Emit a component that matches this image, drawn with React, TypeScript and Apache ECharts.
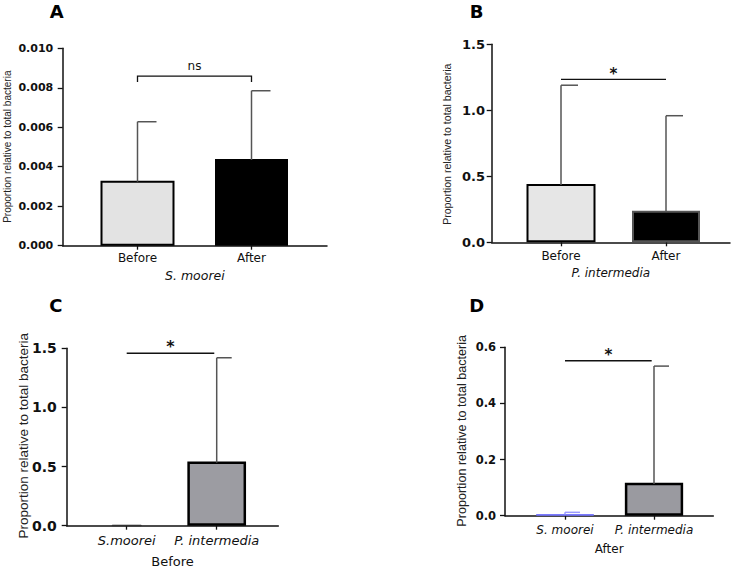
import React, { useEffect, useRef } from 'react';
import * as echarts from 'echarts';

// ---- data ----
const abCategories = ['Before', 'After'];
const cCategories = ['S.moorei', 'P. intermedia'];
const dCategories = ['S. moorei', 'P. intermedia'];

const aMeans = [0.00324, 0.00434];
const aUpper = [0.00628, 0.00785];
const bMeans = [0.434, 0.232];
const bUpper = [1.19, 0.959];
const cMeans = [0.004, 0.533];
const cUpper = [0.004, 1.42];
const dMeans = [0.004, 0.113];
const dUpper = [0.012, 0.533];

// y axis: min, max, step, decimals
const aYAxis = [0, 0.01, 0.002, 3];
const bYAxis = [0, 1.5, 0.5, 1];
const cYAxis = [0, 1.5, 0.5, 1];
const dYAxis = [0, 0.6, 0.2, 1];

// significance: from position, to position, height, bracket drop
const aSig = [1, 2, 0.00859, 0.0003];
const bSig = [1, 2, 1.235, 0];
const cSig = [1, 1.973, 1.458, 0];
const dSig = [1, 1.974, 0.552, 0];
const sigLabels = ['ns', '*', '*', '*'];

const panelLetters = ['A', 'B', 'C', 'D'];
const xNames = ['S. moorei', 'P. intermedia', 'Before', 'After'];
const yTitle = 'Proportion relative to total bacteria';

// ---- layout / style ----
const H = 'DejaVu Sans';
const panels = [
  {
    cats: abCategories, means: aMeans, upper: aUpper, y: aYAxis, sig: aSig,
    left: 62.7, top: 48.3, width: 264.3, height: 197.4, pos1: 137.5, unit: 114,
    barW: [74, 73], fills: ['#e3e3e3', '#000000'], strokes: ['#000', '#000'], barLW: [2, 2],
    cap: 19, tickFont: 11, tickMargin: 9.5, catFont: 12, catItalic: false, catMargin: 6.3,
    nameFont: 12.5, nameItalic: true, nameGap: 23,
    letter: [56.7, 11.7], title: [7.5, 146.7, 10], sigOff: 10, sigFont: 12, sigBold: false,
    errColor: ['#555', '#555'],
  },
  {
    cats: abCategories, means: bMeans, upper: bUpper, y: bYAxis, sig: bSig,
    left: 491.7, top: 44.3, width: 238.3, height: 198, pos1: 561, unit: 105,
    barW: [69, 68], fills: ['#e6e6e6', '#000000'], strokes: ['#000', '#555'], barLW: [2, 2],
    cap: 17, tickFont: 13, tickMargin: 6.7, catFont: 12, catItalic: false, catMargin: 7.7,
    nameFont: 12, nameItalic: true, nameGap: 24.7,
    letter: [476.7, 11.7], title: [446.7, 144.2, 10.6], sigOff: 5, sigFont: 15, sigBold: true,
    errColor: ['#555', '#555'],
  },
  {
    cats: cCategories, means: cMeans, upper: cUpper, y: cYAxis, sig: cSig,
    left: 66.7, top: 348.3, width: 211.6, height: 177.4, pos1: 126.7, unit: 90,
    barW: [30, 58.7], fills: ['#222222', '#9c9ca2'], strokes: ['#333', '#000'], barLW: [1, 2.5],
    cap: 15, tickFont: 14, tickMargin: 10, catFont: 13, catItalic: true, catMargin: 7.8,
    nameFont: 13, nameItalic: false, nameGap: 29.5,
    letter: [55.8, 305.3], title: [23.3, 435.8, 13.5], sigOff: 7, sigFont: 16, sigBold: true,
    errColor: ['#555', '#555'],
  },
  {
    cats: dCategories, means: dMeans, upper: dUpper, y: dYAxis, sig: dSig,
    left: 505, top: 347.3, width: 208.3, height: 168.4, pos1: 565, unit: 89,
    barW: [58, 58.3], fills: ['#3a3ad8', '#9a9aa0'], strokes: ['#7a7aff', '#000'], barLW: [1, 2.5],
    cap: 15, tickFont: 11.5, tickMargin: 9, catFont: 12, catItalic: true, catMargin: 8.3,
    nameFont: 12, nameItalic: false, nameGap: 27.3,
    letter: [476.7, 305.3], title: [462, 430.8, 12.6], sigOff: 6, sigFont: 15, sigBold: true,
    errColor: ['#9a9aff', '#555'],
  },
];

function buildOption() {
  const grid: any[] = [];
  const xAxis: any[] = [];
  const yAxis: any[] = [];
  const series: any[] = [];
  const graphic: any[] = [];

  panels.forEach((p, i) => {
    const xmin = 1 - (p.pos1 - p.left) / p.unit;
    const xmax = xmin + p.width / p.unit;
    grid.push({ left: p.left, top: p.top, width: p.width, height: p.height, outerBoundsMode: 'none' });
    xAxis.push({
      type: 'value', gridIndex: i, min: xmin, max: xmax,
      axisLine: { show: true, onZero: false, lineStyle: { color: '#111', width: 1.5 } },
      axisTick: { show: true, customValues: [1, 2], length: 4, lineStyle: { color: '#111', width: 1.3 } },
      axisLabel: {
        customValues: [1, 2], margin: p.catMargin,
        formatter: (v: number) => p.cats[Math.round(v) - 1] ?? '',
        fontFamily: H, fontSize: p.catFont, color: '#111',
        fontStyle: p.catItalic ? 'italic' : 'normal',
      },
      splitLine: { show: false },
      name: xNames[i], nameLocation: 'middle', nameGap: p.nameGap,
      nameTextStyle: {
        fontFamily: H, fontSize: p.nameFont, color: '#111',
        fontStyle: p.nameItalic ? 'italic' : 'normal', verticalAlign: 'top',
      },
    });
    const [ymin, ymax, step, dec] = p.y;
    yAxis.push({
      type: 'value', gridIndex: i, min: ymin, max: ymax, interval: step,
      axisLine: { show: true, onZero: false, lineStyle: { color: '#111', width: 1.5 } },
      axisTick: { show: true, length: 5, lineStyle: { color: '#111', width: 1.3 } },
      axisLabel: {
        margin: p.tickMargin, formatter: (v: number) => v.toFixed(dec),
        fontFamily: H, fontWeight: 'bold', fontSize: p.tickFont, color: '#111',
      },
      splitLine: { show: false },
    });

    // bars
    series.push({
      type: 'custom', xAxisIndex: i, yAxisIndex: i, z: 2,
      data: p.means.map((v, k) => [k + 1, v]),
      renderItem: (params: any, api: any) => {
        const k = params.dataIndex;
        const x = api.value(0);
        const v = api.value(1);
        const p0 = api.coord([x, 0]);
        const p1 = api.coord([x, v]);
        const lw = p.barLW[k];
        const w = p.barW[k] - lw;
        return {
          type: 'rect',
          shape: { x: p0[0] - w / 2, y: p1[1], width: w, height: Math.max(p0[1] - p1[1] - lw / 2, 0.5) },
          style: { fill: p.fills[k], stroke: p.strokes[k], lineWidth: lw },
        };
      },
    });

    // error bars (upper only)
    series.push({
      type: 'custom', xAxisIndex: i, yAxisIndex: i, z: 3,
      data: p.means.map((v, k) => [k + 1, v, p.upper[k]]),
      renderItem: (params: any, api: any) => {
        const k = params.dataIndex;
        const x = api.value(0);
        const v = api.value(1);
        const u = api.value(2);
        if (u <= v) return { type: 'group', children: [] };
        const a = api.coord([x, v]);
        const b = api.coord([x, u]);
        const col = p.errColor[k];
        return {
          type: 'group',
          children: [
            { type: 'line', shape: { x1: a[0], y1: a[1], x2: b[0], y2: b[1] }, style: { stroke: col, lineWidth: 1.5 } },
            { type: 'line', shape: { x1: b[0], y1: b[1], x2: b[0] + p.cap, y2: b[1] }, style: { stroke: col, lineWidth: 1.5 } },
          ],
        };
      },
    });

    // significance
    series.push({
      type: 'custom', xAxisIndex: i, yAxisIndex: i, z: 4,
      data: [p.sig],
      renderItem: (params: any, api: any) => {
        const x1 = api.value(0), x2 = api.value(1), y = api.value(2), drop = api.value(3);
        const a = api.coord([x1, y - drop]);
        const b = api.coord([x1, y]);
        const c = api.coord([x2, y]);
        const d = api.coord([x2, y - drop]);
        return {
          type: 'group',
          children: [
            {
              type: 'polyline',
              shape: { points: drop > 0 ? [a, b, c, d] : [b, c] },
              style: { stroke: '#111', lineWidth: 1.3, fill: 'none' },
            },
            {
              type: 'text', x: (b[0] + c[0]) / 2, y: b[1] - p.sigOff,
              style: {
                text: sigLabels[i], align: 'center', verticalAlign: 'middle',
                fontFamily: H, fontSize: p.sigFont, fontWeight: p.sigBold ? 'bold' : 'normal', fill: '#111',
              },
            },
          ],
        };
      },
    });

    graphic.push({
      type: 'text', x: p.letter[0], y: p.letter[1],
      style: { text: panelLetters[i], align: 'center', verticalAlign: 'middle', fontFamily: H, fontWeight: 'bold', fontSize: 18, fill: '#000' },
    });
    graphic.push({
      type: 'text', x: p.title[0], y: p.title[1], rotation: Math.PI / 2,
      style: { text: yTitle, align: 'center', verticalAlign: 'middle', fontFamily: 'Liberation Sans', fontSize: p.title[2], fill: '#222' },
    });
  });

  return { animation: false, backgroundColor: '#ffffff', grid, xAxis, yAxis, series, graphic };
}

export default function App() {
  const ref = useRef<HTMLDivElement>(null);
  useEffect(() => {
    if (!ref.current) return;
    const chart = echarts.init(ref.current, undefined, { renderer: 'svg' });
    chart.setOption(buildOption() as any);
    return () => chart.dispose();
  }, []);
  return (
    <div
      ref={ref}
      style={{ position: 'fixed', left: 0, top: 0, width: 738, height: 568, background: '#fff' }}
    />
  );
}
